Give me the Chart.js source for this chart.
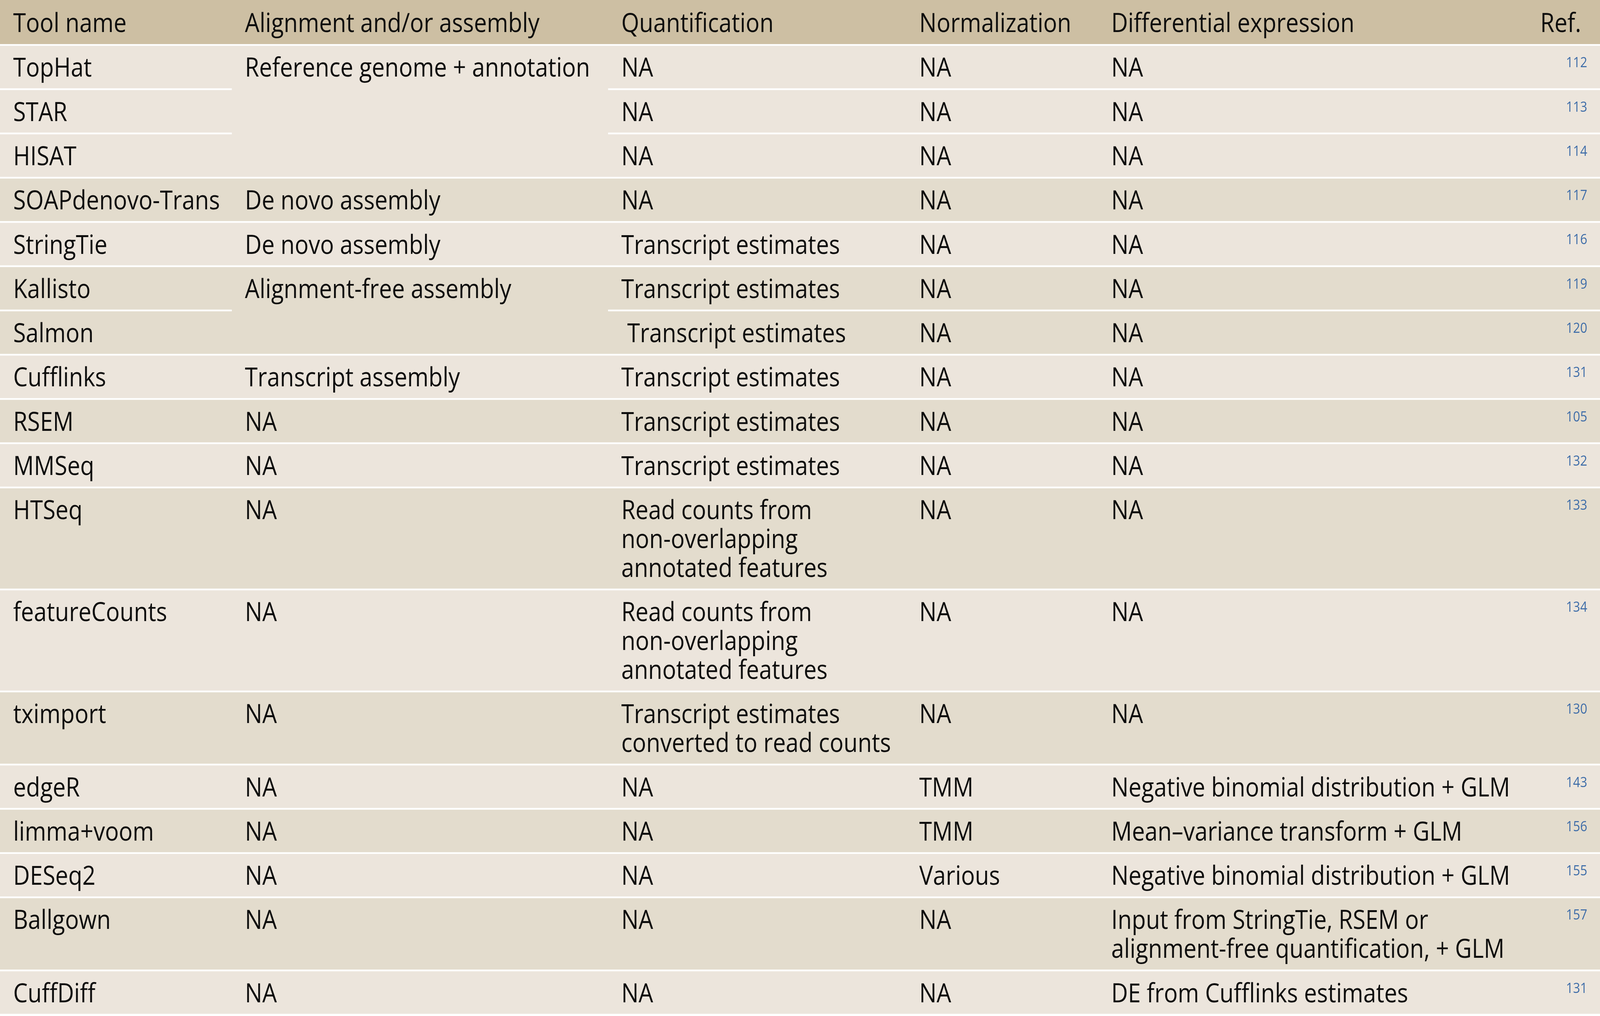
<!DOCTYPE html>
<html>
<head>
<meta charset="utf-8">
<script src="https://cdn.jsdelivr.net/npm/chart.js@4.4.1/dist/chart.umd.min.js"></script>
<style>
  html, body { margin: 0; padding: 0; background: #ffffff; overflow: hidden; }
  #wrap { width: 100vw; height: 100vh; position: relative; }
</style>
</head>
<body>
<div id="wrap"><canvas id="c"></canvas></div>
<script>
// ---------------- DATA ----------------
const headers = ['Tool name', 'Alignment and/or assembly', 'Quantification', 'Normalization', 'Differential expression', 'Ref.'];

const toolNames = ['TopHat', 'STAR', 'HISAT', 'SOAPdenovo-Trans', 'StringTie', 'Kallisto', 'Salmon', 'Cufflinks',
  'RSEM', 'MMSeq', 'HTSeq', 'featureCounts', 'tximport', 'edgeR', 'limma+voom', 'DESeq2', 'Ballgown', 'CuffDiff'];

// null = merged with the cell above
const alignment = ['Reference genome + annotation', null, null, 'De novo assembly', 'De novo assembly',
  'Alignment-free assembly', null, 'Transcript assembly', 'NA', 'NA', 'NA', 'NA', 'NA', 'NA', 'NA', 'NA', 'NA', 'NA'];

const quantification = ['NA', 'NA', 'NA', 'NA', 'Transcript estimates', 'Transcript estimates', ' Transcript estimates',
  'Transcript estimates', 'Transcript estimates', 'Transcript estimates',
  'Read counts from\nnon-overlapping\nannotated features',
  'Read counts from\nnon-overlapping\nannotated features',
  'Transcript estimates\nconverted to read counts',
  'NA', 'NA', 'NA', 'NA', 'NA'];

const normalization = ['NA', 'NA', 'NA', 'NA', 'NA', 'NA', 'NA', 'NA', 'NA', 'NA', 'NA', 'NA', 'NA',
  'TMM', 'TMM', 'Various', 'NA', 'NA'];

const differential = ['NA', 'NA', 'NA', 'NA', 'NA', 'NA', 'NA', 'NA', 'NA', 'NA', 'NA', 'NA', 'NA',
  'Negative binomial distribution + GLM',
  'Mean\u2013variance transform + GLM',
  'Negative binomial distribution + GLM',
  'Input from StringTie, RSEM or\nalignment-free quantification, + GLM',
  'DE from Cufflinks estimates'];

const refs = [112, 113, 114, 117, 116, 119, 120, 131, 105, 132, 133, 134, 130, 143, 156, 155, 157, 131];

// ---------------- LAYOUT / STYLE ----------------
const TABLE_W = 4252;                                  // x-axis units
const TABLE_H = 2601;                                  // reference height, for font sizing
const colEdges = [0, 616, 1616, 2408, 2918, 3950, TABLE_W];
const PAD_X = 35;
const REF_RIGHT = 4218, REF_HEAD_RIGHT = 4202;

const HEADER_BODY = 1.527;   // y units (one unit = one text line)
const SEP = 0.06;
const ROW_PAD = 0.473;
const FIRST_BASE = 1.07;
const HEADER_BASE = 1.108;
const REF_BASE = 0.745;
const LINE_PX = 73.9;

const COL_HEADER = '#cdbfa3';
const COL_LIGHT = '#ece5dc';
const COL_DARK = '#e3dccd';
const COL_TEXT = '#0d0d0d';
const COL_REF = '#3d6ca8';
const FONT_FAMILY = '"Open Sans", "Noto Sans", sans-serif';
const FONT_UNITS = 67;
const REF_FONT_UNITS = 36;
const WIDTH_PROBE = 'Reference genome + annotation';
const WIDTH_TARGET = 917;     // in x-axis units

// ---------------- DERIVED ROW GEOMETRY ----------------
const columns = [toolNames, alignment, quantification, normalization, differential];
const rowLines = toolNames.map((_, i) =>
  Math.max(...columns.map(col => (col[i] == null ? 1 : String(col[i]).split('\n').length))));
const rowTops = [];
const rowGroups = [];
let yCursor = HEADER_BODY + SEP;
let grp = -1;
rowLines.forEach((n, i) => {
  if (alignment[i] !== null) grp++;
  rowGroups.push(grp);
  rowTops.push(yCursor);
  yCursor += n + ROW_PAD + SEP;
});
const Y_MAX = TABLE_H / LINE_PX;

const tablePlugin = {
  id: 'tablePlugin',
  afterDraw(chart) {
    const ctx = chart.ctx;
    const xs = chart.scales.x, ys = chart.scales.y;
    const X = v => xs.getPixelForValue(v);
    const Y = v => ys.getPixelForValue(v);
    const unitPxX = (X(TABLE_W) - X(0)) / TABLE_W;
    const unitPxY = (Y(Y_MAX) - Y(0)) / TABLE_H;
    const fontPx = FONT_UNITS * unitPxY;
    const refFontPx = REF_FONT_UNITS * unitPxY;

    ctx.save();
    ctx.font = fontPx + 'px ' + FONT_FAMILY;
    const sx = WIDTH_TARGET * unitPxX / ctx.measureText(WIDTH_PROBE).width;

    function rect(x0, y0, x1, y1, color) {
      ctx.fillStyle = color;
      const px0 = X(x0), px1 = X(x1), py0 = Y(y0), py1 = Y(y1);
      ctx.fillRect(px0, py0, px1 - px0, py1 - py0);
    }
    function text(str, x, yb, align, color, size) {
      ctx.save();
      ctx.font = size + 'px ' + FONT_FAMILY;
      ctx.fillStyle = color;
      ctx.textBaseline = 'alphabetic';
      ctx.textAlign = align;
      ctx.translate(X(x), Y(yb));
      ctx.scale(sx, 1);
      ctx.fillText(str, 0, 0);
      ctx.restore();
    }

    // header
    rect(0, 0, TABLE_W, HEADER_BODY, COL_HEADER);
    headers.forEach((h, c) => {
      if (c === headers.length - 1) text(h, REF_HEAD_RIGHT, HEADER_BASE, 'right', COL_TEXT, fontPx);
      else text(h, colEdges[c] + PAD_X, HEADER_BASE, 'left', COL_TEXT, fontPx);
    });

    // row backgrounds
    rowLines.forEach((n, i) => {
      const color = rowGroups[i] % 2 === 0 ? COL_LIGHT : COL_DARK;
      const top = rowTops[i];
      rect(0, top, TABLE_W, top + n + ROW_PAD, color);
      if (alignment[i] === null) {
        rect(colEdges[1], top - SEP - 0.01, colEdges[2], top + 0.01, color);
      }
    });

    // row text
    rowLines.forEach((n, i) => {
      const top = rowTops[i];
      columns.forEach((col, c) => {
        const v = col[i];
        if (v == null) return;
        String(v).split('\n').forEach((ln, k) => {
          text(ln, colEdges[c] + PAD_X, top + FIRST_BASE + k, 'left', COL_TEXT, fontPx);
        });
      });
      text(String(refs[i]), REF_RIGHT, top + REF_BASE, 'right', COL_REF, refFontPx);
    });
    ctx.restore();
  }
};

new Chart(document.getElementById('c'), {
  type: 'scatter',
  data: {
    datasets: [{
      label: 'rows',
      data: rowTops.map((t, i) => ({ x: 0, y: t + rowLines[i] / 2 })),
      pointRadius: 0,
      pointHoverRadius: 0
    }]
  },
  options: {
    responsive: true,
    maintainAspectRatio: false,
    animation: false,
    events: [],
    layout: { padding: 0 },
    plugins: { legend: { display: false }, tooltip: { enabled: false }, title: { display: false } },
    scales: {
      x: { type: 'linear', min: 0, max: TABLE_W, display: false },
      y: { type: 'linear', min: 0, max: Y_MAX, reverse: true, display: false }
    }
  },
  plugins: [tablePlugin]
});
</script>
</body>
</html>
